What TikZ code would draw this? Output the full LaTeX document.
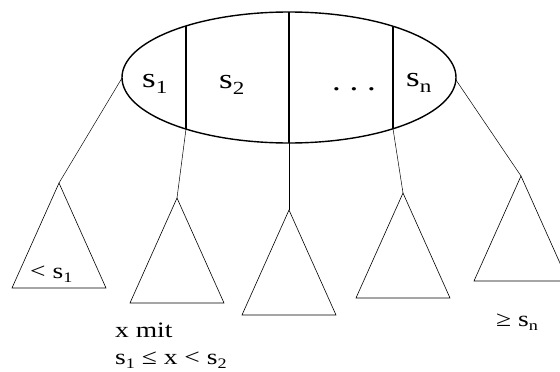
\documentclass[tikz,border=0pt]{standalone}
\usepackage{fontspec}
\setmainfont{Liberation Serif}[FakeStretch=1.25]
\usetikzlibrary{shapes.geometric}
\newcommand{\sidx}[1]{\raisebox{-0.22em}{\scalebox{0.66}{#1}}}
\tikzset{
  keytxt/.style={font=\fontsize{28}{32}\selectfont, inner sep=0pt, anchor=base west},
  subtxt/.style={font=\fontsize{22}{25}\selectfont, inner sep=0pt, anchor=base west},
  subtree/.style={draw, line width=0.6pt, line join=miter},
  edge/.style={line width=0.5pt}
}
\begin{document}
\begin{tikzpicture}[x=1pt,y=-1pt]
\useasboundingbox (0,0) rectangle (560,372);
\clip (0,0) rectangle (560,372);
\node[ellipse, draw, line width=1.4pt, inner sep=0pt, outer sep=0pt,
      minimum width=334, minimum height=131] (root) at (289,77.5) {};
% dividers inside the node
\foreach \n/\x/\top/\bot in {1/186/26/129, 2/289/12/143, 3/393/26.3/128.7}{
  \coordinate (d\n) at (\x,\top);
  \coordinate (e\n) at (\x,\bot);
  \draw[line width=1.2pt] (d\n) -- (e\n);
}
\node[keytxt] (k1) at (142,87) {s\sidx{1}};
\node[keytxt] (k2) at (219,88) {s\sidx{2}};
\node[keytxt] (kdots) at (332,90) {.\ .\ .};
\node[keytxt] (kn) at (406,86) {s\sidx{n}};
% subtrees
\foreach \n/\x/\y in {1/59/183, 2/177/198, 3/289/210, 4/403/193, 5/521/176}{
  \coordinate (t\n) at (\x,\y);
  \draw[subtree] (t\n) -- ++(-47,105) -- ++(94,0) -- cycle;
}
\coordinate (c1) at (122,78);
\coordinate (c5) at (456,80);
\draw[edge] (c1) -- (t1);
\draw[edge] (e1) -- (t2);
\draw[edge] (e2) -- (t3);
\draw[edge] (e3) -- (t4);
\draw[edge] (c5) -- (t5);
\node[subtxt] (lt) at (30,278) {< s\sidx{1}};
\node[subtxt] (ge) at (496,326) {≥ s\sidx{n}};
\node[subtxt] (xmit) at (115,337) {x mit};
\node[subtxt] (rng) at (115,364) {s\sidx{1} ≤ x < s\sidx{2}};
\end{tikzpicture}
\end{document}
